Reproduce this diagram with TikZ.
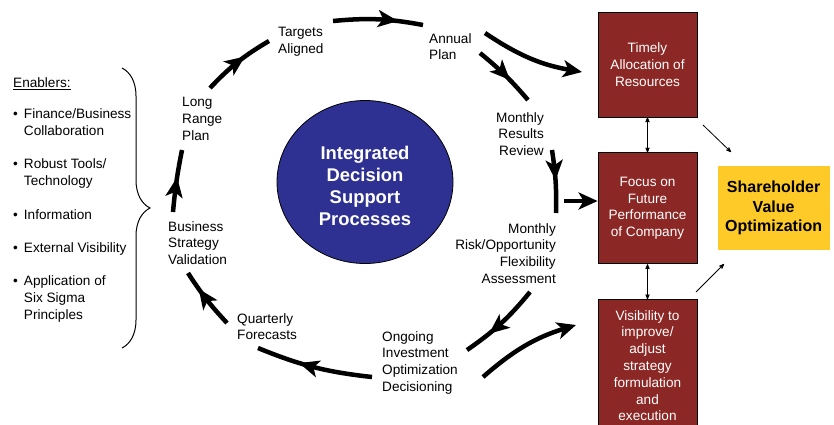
\documentclass[tikz,border=0pt]{standalone}
\usepackage{fontspec}
\setmainfont{Liberation Sans}
\usetikzlibrary{arrows,arrows.meta,positioning,shapes,decorations.markings,decorations.pathreplacing}

\definecolor{boxred}{RGB}{139,39,36}
\definecolor{hubblue}{RGB}{46,49,146}
\definecolor{goalyellow}{RGB}{253,202,40}

\begin{document}
\begin{tikzpicture}[x=1pt,y=1pt,
	stage/.style={inner sep=0pt,font=\fontsize{13.6}{16.8}\selectfont},
	outcome/.style={rectangle,draw=black,line width=0.8pt,fill=boxred,text=white,minimum width=99pt,inner sep=0pt,align=center,font=\fontsize{13.6}{16.8}\selectfont},
	hub/.style={ellipse,draw=black,line width=0.8pt,fill=hubblue,text=white,inner sep=0pt,minimum width=176pt,minimum height=163pt,align=center,font=\fontsize{18.4}{22.2}\selectfont\bfseries},
	goal/.style={rectangle,fill=goalyellow,minimum width=112pt,minimum height=84pt,inner sep=0pt,align=center,font=\fontsize{16}{19.5}\selectfont\bfseries},
	cyclepath/.style={line width=4.5pt},
	midhead/.style={postaction={decorate},decoration={markings,mark=at position #1 with {\arrow{Stealth[length=20pt,width=17pt,inset=5pt]}}}},
	endhead/.style={-{Stealth[length=19pt,width=17pt,inset=5pt]}},
	link/.style={<->, line width=0.8pt, >=stealth'},
	feed/.style={->, line width=0.8pt, >=stealth'}
	]
\useasboundingbox (0,0) rectangle (834,-424);

% enablers
\node [stage, anchor=north west] (enab) at (13,-76) {%
\begin{tabular}{@{}l@{\hspace{6pt}}l@{}}
\multicolumn{2}{@{}l}{\underline{Enablers:}}\\[14pt]
\textbullet & Finance/Business\\
 & Collaboration\\[16pt]
\textbullet & Robust Tools/\\
 & Technology\\[18pt]
\textbullet & Information\\[16pt]
\textbullet & External Visibility\\[16pt]
\textbullet & Application of\\
 & Six Sigma\\
 & Principles
\end{tabular}};
\draw [decorate, decoration={brace, amplitude=28pt}, line width=1pt] (122,-68) -- (122,-348);

% hub
\node [hub] (idsp) at (365,-182) {\rule{0pt}{21pt}Integrated\\Decision\\Support\\Processes};

% stages round the cycle
\node [stage, anchor=north west, align=left] (tgt) at (278,-27) {Targets\\Aligned};
\node [stage, anchor=north west, align=left] (annual) at (429,-33) {Annual\\Plan};
\node [stage, anchor=north east, align=right] (mrr) at (544,-112) {Monthly\\Results\\Review};
\node [stage, anchor=north east, align=right] (mro) at (556,-223) {Monthly\\Risk/Opportunity\\Flexibility\\Assessment};
\node [stage, anchor=north west, align=left] (oio) at (382,-331) {Ongoing\\Investment\\Optimization\\Decisioning};
\node [stage, anchor=north west, align=left] (qf) at (237,-313) {Quarterly\\Forecasts};
\node [stage, anchor=north west, align=left] (bsv) at (168,-221) {Business\\Strategy\\Validation};
\node [stage, anchor=north west, align=left] (lrp) at (182,-97) {Long\\Range\\Plan};

% outcomes
\node [outcome, minimum height=105pt] (tar) at (647.5,-64.5) {Timely\\Allocation of\\Resources};
\node [outcome, minimum height=111pt] (ffp) [below = 35pt of tar] {Focus on\\Future\\Performance\\of Company};
\node [outcome, minimum height=132pt] (vis) [below = 35pt of ffp] {Visibility to\\improve/\\adjust\\strategy\\formulation\\and\\execution};
\node [goal] (svo) [right = 20pt of ffp] {Shareholder\\Value\\Optimization};

% arrow ends round the cycle
\coordinate (lrp1) at (210,-88);  \coordinate (tgt1) at (269,-41);
\coordinate (tgt2) at (333,-21);  \coordinate (ann1) at (423,-25);
\coordinate (ann2) at (480,-53);  \coordinate (mrr1) at (528,-100);
\coordinate (ann3) at (485,-33);  \coordinate (tar1) at (582,-72);
\coordinate (mrr2) at (552,-150); \coordinate (mro1) at (556,-213);
\coordinate (mro2) at (564,-201);
\coordinate (mro3) at (530,-292); \coordinate (oio1) at (467,-350);
\coordinate (oio2) at (483,-377); \coordinate (vis1) at (576,-325);
\coordinate (oio3) at (372,-377); \coordinate (qf1) at (258,-348);
\coordinate (qf2) at (227,-323);  \coordinate (bsv1) at (188,-273);
\coordinate (bsv2) at (173,-212); \coordinate (lrp2) at (182,-150);

% cycle arrows
\draw [cyclepath, midhead=0.62] (lrp1) to[bend left=8] (tgt1);
\draw [cyclepath, midhead=0.72] (tgt2) to[bend left=8] (ann1);
\draw [cyclepath, midhead=0.6] (ann2) to[bend left=5] (mrr1);
\draw [cyclepath, endhead] (ann3) to[bend right=12] (tar1);
\draw [cyclepath, midhead=0.48] (mrr2) to[bend left=5] (mro1);
\draw [cyclepath, endhead] (mro2) -- (mro2 -| ffp.west);
\draw [cyclepath, midhead=0.68] (mro3) to[bend left=8] (oio1);
\draw [cyclepath, endhead] (oio2) to[bend left=12] (vis1);
\draw [cyclepath, midhead=0.63] (oio3) to[bend left=8] (qf1);
\draw [cyclepath, midhead=0.7] (qf2) to[bend left=5] (bsv1);
\draw [cyclepath, midhead=0.56] (bsv2) to[bend left=3] (lrp2);

% links to shareholder value
\coordinate (tar2) at (703,-125); \coordinate (svo1) at (731,-152);
\coordinate (vis2) at (696,-292); \coordinate (svo2) at (724,-264);
\draw [link] (tar) to (ffp);
\draw [link] (ffp) to (vis);
\draw [feed] (tar2) to (svo1);
\draw [feed] (vis2) to (svo2);
\end{tikzpicture}
\end{document}
